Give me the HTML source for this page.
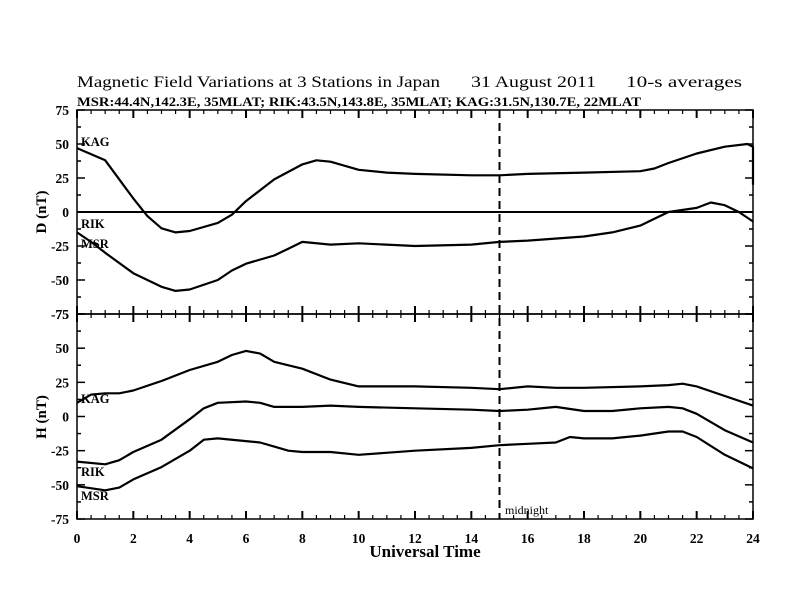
<!DOCTYPE html>
<html><head><meta charset="utf-8"><style>
body{margin:0;background:#fff}
svg{display:block;font-family:"Liberation Serif",serif;font-weight:bold}
</style></head><body>
<svg id="chart" width="792" height="612" viewBox="0 0 792 612">
<rect width="792" height="612" fill="#fff"/>
<text x="77" y="87" font-size="16" font-weight="normal" textLength="363" lengthAdjust="spacingAndGlyphs">Magnetic Field Variations at 3 Stations in Japan</text>
<text x="471" y="87" font-size="16" font-weight="normal" textLength="125" lengthAdjust="spacingAndGlyphs">31  August  2011</text>
<text x="626" y="87" font-size="16" font-weight="normal" textLength="116" lengthAdjust="spacingAndGlyphs">10-s averages</text>
<text x="77" y="106" font-size="12.5" textLength="564" lengthAdjust="spacingAndGlyphs">MSR:44.4N,142.3E, 35MLAT;  RIK:43.5N,143.8E, 35MLAT;  KAG:31.5N,130.7E, 22MLAT</text>
<g id="axes"></g>
<g id="series"></g>
<text x="425" y="557" font-size="17" text-anchor="middle">Universal Time</text>
<text transform="translate(46,212) rotate(-90)" font-size="15" text-anchor="middle">D (nT)</text>
<text transform="translate(46,417) rotate(-90)" font-size="15" text-anchor="middle">H (nT)</text>
<text x="81" y="146" font-size="12.5">KAG</text>
<text x="81" y="228" font-size="12.5">RIK</text>
<text x="81" y="248" font-size="12.5">MSR</text>
<text x="81" y="403" font-size="12.5">KAG</text>
<text x="81" y="476" font-size="12.5">RIK</text>
<text x="81" y="500" font-size="12.5">MSR</text>
<text x="505" y="514" font-size="12" font-weight="normal">midnight</text>
</svg>
<script>
const xTicks=[0,2,4,6,8,10,12,14,16,18,20,22,24];
const yTicks=[-75,-50,-25,0,25,50,75];
const kagDt=[0,1,2,2.5,3,3.5,4,5,5.5,6,7,8,8.5,9,10,11,12,14,15,16,18,20,20.5,21,22,23,23.8,24,24];
const kagD=[47,38,10,-3,-12,-15,-14,-8,-2,8,24,35,38,37,31,29,28,27,27,28,29,30,32,36,43,48,50,48,20];
const msrDt=[0,0.5,1,2,3,3.5,4,5,5.5,6,7,7.5,8,9,10,12,14,15,16,18,19,20,20.5,21,22,22.5,23,23.5,24];
const msrD=[-15,-22,-30,-45,-55,-58,-57,-50,-43,-38,-32,-27,-22,-24,-23,-25,-24,-22,-21,-18,-15,-10,-5,0,3,7,5,0,-7];
const kagHt=[0,0.5,1,1.5,2,3,4,5,5.5,6,6.5,7,8,9,10,12,14,15,16,17,18,20,21,21.5,22,23,24];
const kagH=[10,16,17,17,19,26,34,40,45,48,46,40,35,27,22,22,21,20,22,21,21,22,23,24,22,15,8];
const rikHt=[0,1,1.5,2,3,4,4.5,5,6,6.5,7,8,9,10,12,14,15,16,17,18,19,20,21,21.5,22,23,24];
const rikH=[-33,-35,-32,-26,-17,-2,6,10,11,10,7,7,8,7,6,5,4,5,7,4,4,6,7,6,2,-10,-19];
const msrHt=[0,1,1.5,2,3,4,4.5,5,6,6.5,7,7.5,8,9,10,12,14,15,16,17,17.5,18,19,20,21,21.5,22,23,24];
const msrH=[-51,-54,-52,-46,-37,-25,-17,-16,-18,-19,-22,-25,-26,-26,-28,-25,-23,-21,-20,-19,-15,-16,-16,-14,-11,-11,-15,-28,-38];

const X0=77,X1=753;
const xs=t=>X0+(X1-X0)*t/24;
const panels=[{top:110,bot:314},{top:314,bot:519}];
const ys=(p,v)=>p.top+(75-v)*(p.bot-p.top)/150;
const NS='http://www.w3.org/2000/svg';
const axes=document.getElementById('axes'),ser=document.getElementById('series');
function mk(tag,a,parent){const e=document.createElementNS(NS,tag);for(const k in a)e.setAttribute(k,a[k]);parent.appendChild(e);return e;}
function ln(x1,y1,x2,y2,w){return mk('line',{x1,y1,x2,y2,stroke:'#000','stroke-width':w},axes);}

panels.forEach((p,pi)=>{
  const r=mk('rect',{x:X0,y:p.top,width:X1-X0,height:p.bot-p.top,fill:'none',stroke:'#000','stroke-width':1.5},axes);
  
  
  for(let t=0;t<=24;t+=0.5){
    const maj=(t%2===0),L=maj?8:4;
    ln(xs(t),p.top,xs(t),p.top+L,maj?2:1.2);
    ln(xs(t),p.bot,xs(t),p.bot-L,maj?2:1.2);
  }
  for(let v=-75;v<=75;v+=12.5){
    const maj=(v%25===0),L=maj?8:4;
    ln(X0,ys(p,v),X0+L,ys(p,v),1.5);
    ln(X1,ys(p,v),X1-L,ys(p,v),1.5);
  }
  yTicks.forEach(v=>{
    const tx=mk('text',{x:X0-8,y:ys(p,v)+5,'font-size':13.5,'text-anchor':'end'},axes);
    tx.textContent=v;
    
    
  });
});
xTicks.forEach(t=>{
  const tx=mk('text',{x:xs(t),y:543,'font-size':13.5,'text-anchor':'middle'},axes);
  tx.textContent=t;
  
  
});
const zl=mk('line',{x1:X0,y1:ys(panels[0],0),x2:X1,y2:ys(panels[0],0),stroke:'#000','stroke-width':2},axes);


const md=mk('line',{x1:xs(15),y1:110,x2:xs(15),y2:519,stroke:'#000','stroke-width':2,'stroke-dasharray':'8,5'},axes);



function line(ts,vs,p,name){
  const pts=ts.map((t,i)=>xs(t).toFixed(1)+','+ys(p,vs[i]).toFixed(1)).join(' ');
  const pl=mk('polyline',{points:pts,fill:'none',stroke:'#000','stroke-width':2.2,'stroke-linejoin':'round'},ser);
  
  
}
line(kagDt,kagD,panels[0],'kag-d-line');
line(msrDt,msrD,panels[0],'msr-d-line');
line(kagHt,kagH,panels[1],'kag-h-line');
line(rikHt,rikH,panels[1],'rik-h-line');
line(msrHt,msrH,panels[1],'msr-h-line');
</script>
</body></html>
